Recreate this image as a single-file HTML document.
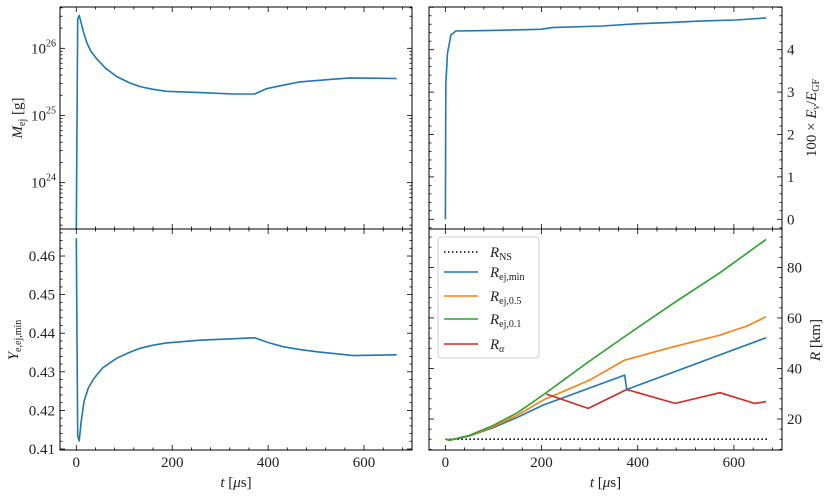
<!DOCTYPE html>
<html><head><meta charset="utf-8"><style>
body{margin:0;background:#fff}
svg{display:block;font-family:"Liberation Serif",serif}
</style></head><body>
<svg id="c" width="830" height="498" xmlns="http://www.w3.org/2000/svg"></svg>
<script>
const tMej=[0,3,6,10,15,22,30,42,60,84,110,133,160,188,258,327,372,397,430,466,500,536,571,668];
const vMej=[23.3,26.44,26.49,26.38,26.24,26.08,25.96,25.85,25.71,25.58,25.49,25.43,25.39,25.36,25.34,25.32,25.32,25.40,25.45,25.50,25.52,25.54,25.56,25.55];
const tE=[0,1,4.5,11.5,22,84,198,222,326,396,465,535,604,667];
const vE=[0,3.2,3.92,4.35,4.44,4.45,4.48,4.52,4.56,4.61,4.64,4.68,4.70,4.75];
const tY=[0,3,6,10,16,25,37,55,84,110,133,160,188,258,372,400,431,465,500,540,577,668];
const vY=[0.4646,0.4134,0.4121,0.4170,0.4223,0.4258,0.4283,0.4310,0.4335,0.4350,0.4361,0.4369,0.4375,0.4382,0.4388,0.4376,0.4365,0.4358,0.4352,0.4347,0.4342,0.4344];
const tNS=[0,670];const vNS=[12,12];
const tBl=[0,9,50,100,150,203,373,377,667];
const vBl=[12,11.6,13.3,16.6,20.7,25.5,37.4,31.7,52.2];
const tOr=[0,9,50,100,150,203,300,373,474,571,627,667];
const vOr=[12,11.6,13.4,17,21.5,27.5,35.4,43.3,48.6,53.2,56.8,60.5];
const tGr=[0,9,50,100,150,203,293,377,474,571,667];
const vGr=[12,11.6,13.5,17.5,22.5,29.5,42,53.2,65.8,77.9,91.1];
const tRa=[210,297,377,478,571,643,667];
const vRa=[29.9,24.2,31.7,26.2,30.4,26.2,26.9];
const xTicks=[0,200,400,600];
const svg=document.getElementById('c');const NS='http://www.w3.org/2000/svg';
function el(tag,a,p){const e=document.createElementNS(NS,tag);for(const k in a)e.setAttribute(k,a[k]);(p||svg).appendChild(e);return e;}
const X0=-34,X1=700;
function mkx(l,r){return t=>l+(t-X0)/(X1-X0)*(r-l);}
function mky(top,bot,lo,hi){return v=>bot-(v-lo)/(hi-lo)*(bot-top);}
function line(ts,vs,sx,sy,col,name,dash){const g=el('path',{d:ts.map((t,i)=>(i?'L':'M')+sx(t).toFixed(1)+','+sy(vs[i]).toFixed(1)).join(''),fill:'none',stroke:col,'stroke-width':1.6,'stroke-linejoin':'round','stroke-dasharray':dash||'none'});

}
function tick(x1,y1,x2,y2){el('line',{x1,y1,x2,y2,stroke:'#000','stroke-width':0.8});}
function txt(s,x,y,anchor,size,name,extra){const e=el('text',Object.assign({x,y,'text-anchor':anchor||'middle','font-size':size||15,fill:'#222'},extra||{}));e.innerHTML=s;

return e;}
function frame(l,t,r,b,name){const e=el('rect',{x:l,y:t,width:r-l,height:b-t,fill:'none',stroke:'#000','stroke-width':1});

}
function xt(l,r,t,b,labels){const sx=mkx(l,r);
for(let v=-40;v<=700;v+=40){const x=sx(v);if(x<l||x>r)continue;const L=v%200==0?5:2.5;tick(x,b,x,b-L);tick(x,t,x,t+L);
if(labels&&xTicks.includes(v))txt(String(v),x,b+17,'middle',15,'x-tick-label');}
if(labels)txt('<tspan font-style="italic">t</tspan> [<tspan font-style="italic">μ</tspan>s]',(l+r)/2,b+37,'middle',15,'x-axis-title');}
function yt(l,r,sy,lo,hi,step,mstep,side,fmt,t,b){for(let v=lo;v<=hi+1e-9;v+=mstep){const y=sy(v);if(y<t-0.5||y>b+0.5)continue;const maj=Math.abs(v/step-Math.round(v/step))<1e-6;const L=maj?5:2.5;tick(l,y,l+L,y);tick(r,y,r-L,y);
if(maj&&y>t+3&&y<b-3){if(side=='l')txt(fmt(v),l-5,y+5,'end',15,'y-tick-label');else txt(fmt(v),r+5,y+5,'start',15,'y-tick-label');}}}
// panel 1
let L=60,R=412,T=7,B=229;
let sx=mkx(L,R),sy=mky(T,B,23.31,26.615);
for(let d=23;d<=26;d++){for(let m=1;m<10;m++){const v=d+Math.log10(m);const y=sy(v);if(y<T||y>B)continue;const Ln=m==1?5:2.5;tick(L,y,L+Ln,y);tick(R,y,R-Ln,y);if(m==1)txt('10<tspan dy="-7" font-size="10">'+d+'</tspan>',L-4,y+5,'end',15,'y-tick-label');}}
xt(L,R,T,B,false);
line(tMej,vMej,sx,sy,'#1f77b4','mej-line');
frame(L,T,R,B,'mass-panel');
txt('<tspan font-style="italic">M</tspan><tspan font-size="10" dy="3">ej</tspan><tspan dy="-3"> [g]</tspan>',0,0,'middle',15,'y-axis-title-mass',{transform:'translate(22,118) rotate(-90)'});
// panel 2
L=429;R=782;
sx=mkx(L,R);sy=mky(T,B,-0.229,5.007);
yt(L,R,sy,-0.2,5,1,0.2,'r',v=>String(Math.round(v)),T,B);
xt(L,R,T,B,false);
line(tE,vE,sx,sy,'#1f77b4','energy-line');
frame(L,T,R,B,'energy-panel');
txt('100 × <tspan font-style="italic">E</tspan><tspan font-size="10" dy="3" font-style="italic">ν</tspan><tspan dy="-3">/</tspan><tspan font-style="italic">E</tspan><tspan font-size="10" dy="3">GF</tspan>',0,0,'middle',15,'y-axis-title-energy',{transform:'translate(816,118) rotate(-90)'});
// panel 3
L=60;R=412;T=229;B=450;
sx=mkx(L,R);sy=mky(T,B,0.40974,0.467);
yt(L,R,sy,0.408,0.468,0.01,0.002,'l',v=>v.toFixed(2),T-6,B+6);
xt(L,R,T,B,true);
line(tY,vY,sx,sy,'#1f77b4','ye-line');
frame(L,T,R,B,'ye-panel');
txt('<tspan font-style="italic">Y</tspan><tspan font-size="10" dy="3">e,ej,min</tspan>',0,0,'middle',15,'y-axis-title-ye',{transform:'translate(18,340) rotate(-90)'});
// panel 4
L=429;R=782;
sx=mkx(L,R);sy=mky(T,B,7.74,95.2);
yt(L,R,sy,8,96,20,4,'r',v=>String(Math.round(v)),T,B);
xt(L,R,T,B,true);
line(tNS,vNS,sx,sy,'#000','r-ns-line','1.5,2.5');
line(tBl,vBl,sx,sy,'#1f77b4','r-ej-min-line');
line(tOr,vOr,sx,sy,'#ff7f0e','r-ej-05-line');
line(tGr,vGr,sx,sy,'#2ca02c','r-ej-01-line');
line(tRa,vRa,sx,sy,'#d62728','r-alpha-line');
frame(L,T,R,B,'radius-panel');
txt('<tspan font-style="italic">R</tspan> [km]',0,0,'middle',15,'y-axis-title-radius',{transform:'translate(820,340) rotate(-90)'});
// legend
const lg=el('g',{});


el('rect',{x:438,y:237,width:101,height:121,rx:3,fill:'#fff','fill-opacity':0.85,stroke:'#ccc','stroke-width':1},lg);
const labs=['<tspan font-style="italic">R</tspan><tspan font-size="10" dy="3">NS</tspan>','<tspan font-style="italic">R</tspan><tspan font-size="10" dy="3">ej,min</tspan>','<tspan font-style="italic">R</tspan><tspan font-size="10" dy="3">ej,0.5</tspan>','<tspan font-style="italic">R</tspan><tspan font-size="10" dy="3">ej,0.1</tspan>','<tspan font-style="italic">R</tspan><tspan font-size="10" dy="3" font-style="italic">α</tspan>'];
const cols=['#000','#1f77b4','#ff7f0e','#2ca02c','#d62728'];
const ys=[252,272,296,319,344];
labs.forEach((s,i)=>{const g=el('g',{},lg);


el('line',{x1:444,y1:ys[i],x2:478,y2:ys[i],stroke:cols[i],'stroke-width':1.6,'stroke-dasharray':i==0?'1.5,2.5':'none'},g);
const t=el('text',{x:490,y:ys[i]+5,'font-size':15,fill:'#222'},g);t.innerHTML=s;});
</script>
</body></html>
